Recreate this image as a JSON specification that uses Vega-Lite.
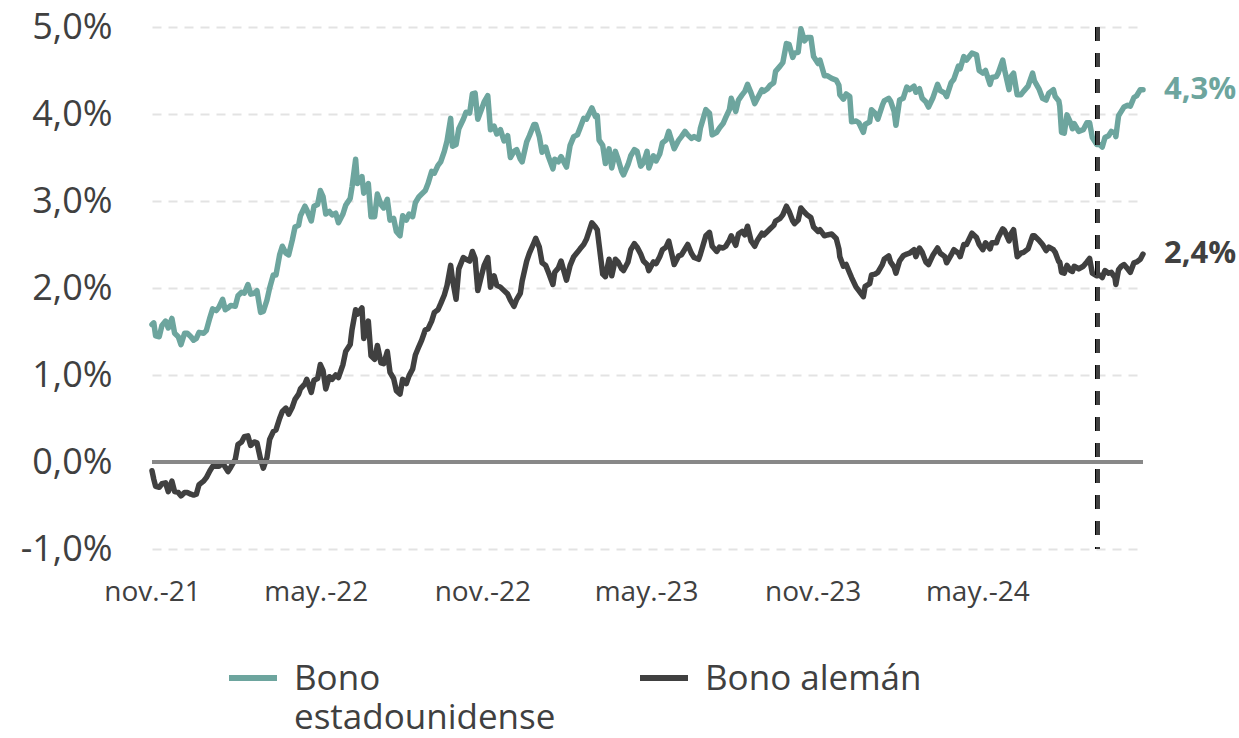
{
  "$schema": "https://vega.github.io/schema/vega-lite/v6.json",
  "width": 991,
  "height": 522,
  "autosize": {"type": "none"},
  "padding": {"left": 152, "top": 27, "right": 96, "bottom": 189},
  "background": "white",
  "config": {
    "view": {"stroke": null},
    "font": "Open Sans",
    "axis": {"title": null}
  },
  "data": {"values": [
    {"d":"2021-11-01","us":1.58,"de":-0.10},
    {"d":"2021-11-03","us":1.60,"de":-0.20},
    {"d":"2021-11-05","us":1.45,"de":-0.28},
    {"d":"2021-11-09","us":1.44,"de":-0.29},
    {"d":"2021-11-12","us":1.57,"de":-0.25},
    {"d":"2021-11-16","us":1.62,"de":-0.24},
    {"d":"2021-11-19","us":1.54,"de":-0.34},
    {"d":"2021-11-23","us":1.65,"de":-0.22},
    {"d":"2021-11-26","us":1.48,"de":-0.34},
    {"d":"2021-11-30","us":1.44,"de":-0.35},
    {"d":"2021-12-03","us":1.35,"de":-0.39},
    {"d":"2021-12-07","us":1.48,"de":-0.35},
    {"d":"2021-12-10","us":1.48,"de":-0.35},
    {"d":"2021-12-14","us":1.44,"de":-0.37},
    {"d":"2021-12-17","us":1.40,"de":-0.38},
    {"d":"2021-12-20","us":1.42,"de":-0.37},
    {"d":"2021-12-23","us":1.49,"de":-0.26},
    {"d":"2021-12-28","us":1.48,"de":-0.22},
    {"d":"2021-12-31","us":1.51,"de":-0.18},
    {"d":"2022-01-04","us":1.66,"de":-0.10},
    {"d":"2022-01-07","us":1.76,"de":-0.05},
    {"d":"2022-01-11","us":1.74,"de":-0.05},
    {"d":"2022-01-14","us":1.78,"de":-0.05},
    {"d":"2022-01-18","us":1.87,"de":-0.01},
    {"d":"2022-01-21","us":1.75,"de":-0.06},
    {"d":"2022-01-24","us":1.77,"de":-0.11},
    {"d":"2022-01-27","us":1.80,"de":-0.06},
    {"d":"2022-02-01","us":1.79,"de":0.03},
    {"d":"2022-02-04","us":1.91,"de":0.20},
    {"d":"2022-02-08","us":1.95,"de":0.23},
    {"d":"2022-02-11","us":1.94,"de":0.29},
    {"d":"2022-02-15","us":2.04,"de":0.30},
    {"d":"2022-02-18","us":1.93,"de":0.19},
    {"d":"2022-02-22","us":1.94,"de":0.23},
    {"d":"2022-02-25","us":1.97,"de":0.22},
    {"d":"2022-03-01","us":1.72,"de":0.03},
    {"d":"2022-03-04","us":1.73,"de":-0.07},
    {"d":"2022-03-08","us":1.86,"de":0.05},
    {"d":"2022-03-11","us":2.00,"de":0.26},
    {"d":"2022-03-15","us":2.15,"de":0.35},
    {"d":"2022-03-18","us":2.15,"de":0.37},
    {"d":"2022-03-22","us":2.38,"de":0.50},
    {"d":"2022-03-25","us":2.48,"de":0.58},
    {"d":"2022-03-29","us":2.40,"de":0.62},
    {"d":"2022-04-01","us":2.38,"de":0.55},
    {"d":"2022-04-05","us":2.55,"de":0.63},
    {"d":"2022-04-08","us":2.70,"de":0.72},
    {"d":"2022-04-12","us":2.72,"de":0.78},
    {"d":"2022-04-14","us":2.83,"de":0.84},
    {"d":"2022-04-19","us":2.94,"de":0.90},
    {"d":"2022-04-21","us":2.90,"de":0.95},
    {"d":"2022-04-26","us":2.77,"de":0.80},
    {"d":"2022-04-29","us":2.94,"de":0.94},
    {"d":"2022-05-03","us":2.96,"de":0.96},
    {"d":"2022-05-06","us":3.12,"de":1.12},
    {"d":"2022-05-09","us":3.05,"de":1.05},
    {"d":"2022-05-12","us":2.85,"de":0.84},
    {"d":"2022-05-16","us":2.88,"de":0.98},
    {"d":"2022-05-19","us":2.84,"de":0.95},
    {"d":"2022-05-23","us":2.86,"de":1.00},
    {"d":"2022-05-26","us":2.75,"de":0.97},
    {"d":"2022-05-31","us":2.85,"de":1.12},
    {"d":"2022-06-03","us":2.95,"de":1.27},
    {"d":"2022-06-08","us":3.03,"de":1.35},
    {"d":"2022-06-10","us":3.16,"de":1.52},
    {"d":"2022-06-14","us":3.48,"de":1.75},
    {"d":"2022-06-16","us":3.20,"de":1.70},
    {"d":"2022-06-21","us":3.28,"de":1.77},
    {"d":"2022-06-23","us":3.09,"de":1.42},
    {"d":"2022-06-28","us":3.20,"de":1.62},
    {"d":"2022-07-01","us":2.82,"de":1.22},
    {"d":"2022-07-05","us":2.82,"de":1.18},
    {"d":"2022-07-08","us":3.08,"de":1.34},
    {"d":"2022-07-12","us":2.96,"de":1.14},
    {"d":"2022-07-15","us":2.92,"de":1.13},
    {"d":"2022-07-19","us":3.02,"de":1.27},
    {"d":"2022-07-22","us":2.78,"de":1.03},
    {"d":"2022-07-26","us":2.80,"de":0.96},
    {"d":"2022-07-29","us":2.65,"de":0.82},
    {"d":"2022-08-02","us":2.60,"de":0.78},
    {"d":"2022-08-05","us":2.83,"de":0.95},
    {"d":"2022-08-09","us":2.78,"de":0.90},
    {"d":"2022-08-12","us":2.85,"de":0.99},
    {"d":"2022-08-16","us":2.82,"de":1.07},
    {"d":"2022-08-19","us":2.98,"de":1.23},
    {"d":"2022-08-23","us":3.05,"de":1.33},
    {"d":"2022-08-26","us":3.08,"de":1.40},
    {"d":"2022-08-30","us":3.12,"de":1.52},
    {"d":"2022-09-02","us":3.20,"de":1.53},
    {"d":"2022-09-06","us":3.34,"de":1.62},
    {"d":"2022-09-09","us":3.32,"de":1.72},
    {"d":"2022-09-13","us":3.41,"de":1.75},
    {"d":"2022-09-16","us":3.45,"de":1.82},
    {"d":"2022-09-20","us":3.57,"de":1.92},
    {"d":"2022-09-23","us":3.69,"de":2.03},
    {"d":"2022-09-27","us":3.95,"de":2.26},
    {"d":"2022-09-29","us":3.63,"de":2.10},
    {"d":"2022-10-03","us":3.65,"de":1.87},
    {"d":"2022-10-06","us":3.83,"de":2.22},
    {"d":"2022-10-11","us":3.94,"de":2.35},
    {"d":"2022-10-14","us":4.02,"de":2.33},
    {"d":"2022-10-18","us":4.01,"de":2.31},
    {"d":"2022-10-21","us":4.23,"de":2.42},
    {"d":"2022-10-24","us":4.24,"de":2.34},
    {"d":"2022-10-27","us":3.94,"de":1.97},
    {"d":"2022-10-31","us":4.05,"de":2.14},
    {"d":"2022-11-03","us":4.14,"de":2.26},
    {"d":"2022-11-07","us":4.21,"de":2.35},
    {"d":"2022-11-10","us":3.82,"de":2.01},
    {"d":"2022-11-14","us":3.86,"de":2.14},
    {"d":"2022-11-17","us":3.77,"de":2.03},
    {"d":"2022-11-21","us":3.82,"de":2.01},
    {"d":"2022-11-25","us":3.69,"de":1.97},
    {"d":"2022-11-29","us":3.75,"de":1.93},
    {"d":"2022-12-02","us":3.50,"de":1.86},
    {"d":"2022-12-06","us":3.57,"de":1.79},
    {"d":"2022-12-09","us":3.59,"de":1.87},
    {"d":"2022-12-13","us":3.48,"de":1.94},
    {"d":"2022-12-15","us":3.45,"de":2.08},
    {"d":"2022-12-20","us":3.68,"de":2.31},
    {"d":"2022-12-23","us":3.75,"de":2.40},
    {"d":"2022-12-28","us":3.88,"de":2.52},
    {"d":"2022-12-30","us":3.88,"de":2.57},
    {"d":"2023-01-03","us":3.74,"de":2.47},
    {"d":"2023-01-06","us":3.56,"de":2.29},
    {"d":"2023-01-10","us":3.62,"de":2.26},
    {"d":"2023-01-13","us":3.51,"de":2.18},
    {"d":"2023-01-18","us":3.37,"de":2.04},
    {"d":"2023-01-20","us":3.48,"de":2.18},
    {"d":"2023-01-24","us":3.45,"de":2.23},
    {"d":"2023-01-27","us":3.51,"de":2.31},
    {"d":"2023-02-02","us":3.39,"de":2.09},
    {"d":"2023-02-06","us":3.64,"de":2.26},
    {"d":"2023-02-10","us":3.74,"de":2.36},
    {"d":"2023-02-14","us":3.76,"de":2.41},
    {"d":"2023-02-17","us":3.84,"de":2.45},
    {"d":"2023-02-21","us":3.95,"de":2.50},
    {"d":"2023-02-24","us":3.94,"de":2.56},
    {"d":"2023-03-02","us":4.07,"de":2.75},
    {"d":"2023-03-06","us":3.97,"de":2.70},
    {"d":"2023-03-08","us":3.98,"de":2.67},
    {"d":"2023-03-10","us":3.70,"de":2.50},
    {"d":"2023-03-14","us":3.64,"de":2.16},
    {"d":"2023-03-17","us":3.43,"de":2.13},
    {"d":"2023-03-21","us":3.60,"de":2.33},
    {"d":"2023-03-24","us":3.38,"de":2.14},
    {"d":"2023-03-28","us":3.57,"de":2.33},
    {"d":"2023-03-31","us":3.48,"de":2.30},
    {"d":"2023-04-04","us":3.34,"de":2.22},
    {"d":"2023-04-06","us":3.30,"de":2.20},
    {"d":"2023-04-11","us":3.42,"de":2.30},
    {"d":"2023-04-14","us":3.52,"de":2.44},
    {"d":"2023-04-18","us":3.59,"de":2.51},
    {"d":"2023-04-21","us":3.57,"de":2.47},
    {"d":"2023-04-25","us":3.40,"de":2.39},
    {"d":"2023-04-28","us":3.44,"de":2.31},
    {"d":"2023-05-02","us":3.57,"de":2.27},
    {"d":"2023-05-04","us":3.38,"de":2.20},
    {"d":"2023-05-09","us":3.52,"de":2.30},
    {"d":"2023-05-12","us":3.46,"de":2.28},
    {"d":"2023-05-16","us":3.54,"de":2.36},
    {"d":"2023-05-19","us":3.67,"de":2.44},
    {"d":"2023-05-23","us":3.70,"de":2.47},
    {"d":"2023-05-26","us":3.80,"de":2.54},
    {"d":"2023-06-01","us":3.60,"de":2.27},
    {"d":"2023-06-06","us":3.70,"de":2.37},
    {"d":"2023-06-09","us":3.74,"de":2.38},
    {"d":"2023-06-13","us":3.80,"de":2.45},
    {"d":"2023-06-16","us":3.76,"de":2.50},
    {"d":"2023-06-20","us":3.72,"de":2.40},
    {"d":"2023-06-23","us":3.74,"de":2.35},
    {"d":"2023-06-28","us":3.71,"de":2.33},
    {"d":"2023-06-30","us":3.84,"de":2.39},
    {"d":"2023-07-06","us":4.05,"de":2.60},
    {"d":"2023-07-10","us":4.01,"de":2.64},
    {"d":"2023-07-13","us":3.76,"de":2.48},
    {"d":"2023-07-18","us":3.79,"de":2.42},
    {"d":"2023-07-21","us":3.84,"de":2.47},
    {"d":"2023-07-25","us":3.89,"de":2.46},
    {"d":"2023-07-28","us":3.96,"de":2.48},
    {"d":"2023-08-01","us":4.05,"de":2.55},
    {"d":"2023-08-03","us":4.18,"de":2.60},
    {"d":"2023-08-08","us":4.03,"de":2.49},
    {"d":"2023-08-11","us":4.16,"de":2.62},
    {"d":"2023-08-15","us":4.22,"de":2.65},
    {"d":"2023-08-18","us":4.26,"de":2.61},
    {"d":"2023-08-21","us":4.34,"de":2.71},
    {"d":"2023-08-25","us":4.24,"de":2.54},
    {"d":"2023-08-29","us":4.12,"de":2.48},
    {"d":"2023-09-01","us":4.18,"de":2.55},
    {"d":"2023-09-06","us":4.28,"de":2.63},
    {"d":"2023-09-08","us":4.26,"de":2.61},
    {"d":"2023-09-12","us":4.29,"de":2.65},
    {"d":"2023-09-15","us":4.33,"de":2.68},
    {"d":"2023-09-19","us":4.36,"de":2.72},
    {"d":"2023-09-21","us":4.49,"de":2.77},
    {"d":"2023-09-26","us":4.55,"de":2.80},
    {"d":"2023-09-29","us":4.59,"de":2.84},
    {"d":"2023-10-03","us":4.81,"de":2.94},
    {"d":"2023-10-06","us":4.80,"de":2.88},
    {"d":"2023-10-10","us":4.65,"de":2.77},
    {"d":"2023-10-12","us":4.70,"de":2.74},
    {"d":"2023-10-16","us":4.71,"de":2.78},
    {"d":"2023-10-19","us":4.98,"de":2.92},
    {"d":"2023-10-23","us":4.84,"de":2.87},
    {"d":"2023-10-26","us":4.88,"de":2.84},
    {"d":"2023-10-30","us":4.88,"de":2.81},
    {"d":"2023-11-02","us":4.66,"de":2.70},
    {"d":"2023-11-07","us":4.58,"de":2.65},
    {"d":"2023-11-09","us":4.62,"de":2.67},
    {"d":"2023-11-14","us":4.44,"de":2.60},
    {"d":"2023-11-17","us":4.44,"de":2.61},
    {"d":"2023-11-22","us":4.41,"de":2.62},
    {"d":"2023-11-27","us":4.39,"de":2.57},
    {"d":"2023-11-30","us":4.33,"de":2.45},
    {"d":"2023-12-01","us":4.22,"de":2.36},
    {"d":"2023-12-05","us":4.17,"de":2.25},
    {"d":"2023-12-08","us":4.23,"de":2.27},
    {"d":"2023-12-12","us":4.20,"de":2.17},
    {"d":"2023-12-14","us":3.91,"de":2.12},
    {"d":"2023-12-19","us":3.92,"de":2.01},
    {"d":"2023-12-22","us":3.90,"de":1.97},
    {"d":"2023-12-27","us":3.79,"de":1.90},
    {"d":"2023-12-29","us":3.88,"de":2.02},
    {"d":"2024-01-03","us":3.91,"de":2.05},
    {"d":"2024-01-05","us":4.05,"de":2.15},
    {"d":"2024-01-09","us":4.01,"de":2.16},
    {"d":"2024-01-12","us":3.94,"de":2.18},
    {"d":"2024-01-17","us":4.10,"de":2.27},
    {"d":"2024-01-19","us":4.15,"de":2.33},
    {"d":"2024-01-24","us":4.18,"de":2.37},
    {"d":"2024-01-26","us":4.15,"de":2.30},
    {"d":"2024-01-30","us":4.03,"de":2.24},
    {"d":"2024-02-01","us":3.87,"de":2.17},
    {"d":"2024-02-05","us":4.16,"de":2.31},
    {"d":"2024-02-09","us":4.18,"de":2.37},
    {"d":"2024-02-13","us":4.31,"de":2.39},
    {"d":"2024-02-16","us":4.28,"de":2.40},
    {"d":"2024-02-21","us":4.32,"de":2.44},
    {"d":"2024-02-23","us":4.25,"de":2.36},
    {"d":"2024-02-27","us":4.29,"de":2.46},
    {"d":"2024-03-01","us":4.18,"de":2.41},
    {"d":"2024-03-05","us":4.14,"de":2.30},
    {"d":"2024-03-08","us":4.08,"de":2.27},
    {"d":"2024-03-13","us":4.19,"de":2.38},
    {"d":"2024-03-18","us":4.34,"de":2.46},
    {"d":"2024-03-21","us":4.27,"de":2.40},
    {"d":"2024-03-26","us":4.24,"de":2.36},
    {"d":"2024-03-28","us":4.20,"de":2.29},
    {"d":"2024-04-02","us":4.36,"de":2.38},
    {"d":"2024-04-05","us":4.40,"de":2.44},
    {"d":"2024-04-10","us":4.55,"de":2.40},
    {"d":"2024-04-12","us":4.52,"de":2.36},
    {"d":"2024-04-16","us":4.66,"de":2.50},
    {"d":"2024-04-19","us":4.62,"de":2.50},
    {"d":"2024-04-25","us":4.70,"de":2.63},
    {"d":"2024-04-30","us":4.68,"de":2.58},
    {"d":"2024-05-03","us":4.50,"de":2.50},
    {"d":"2024-05-07","us":4.47,"de":2.44},
    {"d":"2024-05-10","us":4.50,"de":2.52},
    {"d":"2024-05-15","us":4.34,"de":2.45},
    {"d":"2024-05-17","us":4.42,"de":2.52},
    {"d":"2024-05-22","us":4.43,"de":2.52},
    {"d":"2024-05-24","us":4.47,"de":2.58},
    {"d":"2024-05-29","us":4.62,"de":2.68},
    {"d":"2024-05-31","us":4.51,"de":2.66},
    {"d":"2024-06-05","us":4.28,"de":2.54},
    {"d":"2024-06-07","us":4.43,"de":2.62},
    {"d":"2024-06-10","us":4.47,"de":2.67},
    {"d":"2024-06-14","us":4.22,"de":2.36},
    {"d":"2024-06-18","us":4.22,"de":2.40},
    {"d":"2024-06-21","us":4.26,"de":2.41},
    {"d":"2024-06-26","us":4.32,"de":2.45},
    {"d":"2024-07-01","us":4.47,"de":2.60},
    {"d":"2024-07-03","us":4.38,"de":2.60},
    {"d":"2024-07-08","us":4.29,"de":2.55},
    {"d":"2024-07-12","us":4.18,"de":2.50},
    {"d":"2024-07-16","us":4.16,"de":2.43},
    {"d":"2024-07-19","us":4.24,"de":2.47},
    {"d":"2024-07-24","us":4.28,"de":2.44},
    {"d":"2024-07-26","us":4.20,"de":2.41},
    {"d":"2024-07-30","us":4.15,"de":2.30},
    {"d":"2024-07-31","us":4.09,"de":2.30},
    {"d":"2024-08-02","us":3.79,"de":2.18},
    {"d":"2024-08-05","us":3.78,"de":2.17},
    {"d":"2024-08-08","us":3.99,"de":2.26},
    {"d":"2024-08-12","us":3.90,"de":2.20},
    {"d":"2024-08-14","us":3.83,"de":2.19},
    {"d":"2024-08-16","us":3.89,"de":2.25},
    {"d":"2024-08-21","us":3.80,"de":2.22},
    {"d":"2024-08-26","us":3.82,"de":2.25},
    {"d":"2024-08-30","us":3.90,"de":2.30},
    {"d":"2024-09-02","us":3.90,"de":2.34},
    {"d":"2024-09-05","us":3.73,"de":2.17},
    {"d":"2024-09-10","us":3.65,"de":2.14},
    {"d":"2024-09-13","us":3.65,"de":2.15},
    {"d":"2024-09-16","us":3.62,"de":2.12},
    {"d":"2024-09-19","us":3.73,"de":2.20},
    {"d":"2024-09-23","us":3.75,"de":2.17},
    {"d":"2024-09-26","us":3.80,"de":2.18},
    {"d":"2024-09-30","us":3.78,"de":2.12},
    {"d":"2024-10-01","us":3.74,"de":2.04},
    {"d":"2024-10-04","us":3.98,"de":2.21},
    {"d":"2024-10-07","us":4.03,"de":2.25},
    {"d":"2024-10-10","us":4.08,"de":2.27},
    {"d":"2024-10-14","us":4.10,"de":2.22},
    {"d":"2024-10-17","us":4.09,"de":2.18},
    {"d":"2024-10-21","us":4.19,"de":2.29},
    {"d":"2024-10-24","us":4.21,"de":2.30},
    {"d":"2024-10-28","us":4.28,"de":2.33},
    {"d":"2024-10-31","us":4.28,"de":2.39}
  ]},
  "layer": [
    {
      "transform": [{"fold": ["us", "de"], "as": ["serie", "v"]}],
      "mark": {"type": "line", "strokeWidth": 5.5, "strokeJoin": "round", "strokeCap": "round"},
      "encoding": {
        "x": {
          "field": "d", "type": "temporal", "title": null,
          "scale": {"domain": [{"year": 2021, "month": 11, "date": 1}, {"year": 2024, "month": 10, "date": 31}]},
          "axis": {
            "values": [
              {"year": 2021, "month": 11, "date": 1},
              {"year": 2022, "month": 5, "date": 1},
              {"year": 2022, "month": 11, "date": 1},
              {"year": 2023, "month": 5, "date": 1},
              {"year": 2023, "month": 11, "date": 1},
              {"year": 2024, "month": 5, "date": 1}
            ],
            "labelExpr": "(month(datum.value) == 10 ? 'nov.-' : 'may.-') + timeFormat(datum.value, '%y')",
            "labelFontSize": 28, "labelColor": "#404040", "labelFont": "Open Sans",
            "labelFlush": false, "labelOverlap": false, "labelBound": false,
            "grid": false, "domain": false, "ticks": false, "tickSize": 0, "labelPadding": 29
          }
        },
        "y": {
          "field": "v", "type": "quantitative", "title": null,
          "scale": {"domain": [-1, 5], "nice": false, "zero": false},
          "axis": {
            "values": [-1, 0, 1, 2, 3, 4, 5],
            "labelExpr": "(datum.value < 0 ? '-' : '') + replace(format(abs(datum.value), '.1f'), '.', ',') + '%'",
            "labelFontSize": 36, "labelColor": "#404040", "labelFont": "Open Sans",
            "grid": true, "gridColor": "#e3e3e3", "gridWidth": 2, "gridDash": [9, 7],
            "domain": false, "ticks": false, "tickSize": 0, "labelPadding": 40
          }
        },
        "color": {
          "field": "serie", "type": "nominal",
          "scale": {"domain": ["us", "de"], "range": ["#6da59e", "#404040"]},
          "legend": {
            "orient": "none", "legendX": 74, "legendY": 624,
            "direction": "horizontal", "columns": 2, "columnPadding": 72,
            "title": null, "padding": 0,
            "symbolType": "stroke", "symbolSize": 2304, "symbolStrokeWidth": 6,
            "labelFont": "Open Sans", "labelFontSize": 35, "labelColor": "#404040",
            "labelOffset": 14, "labelLimit": 600, "labelBaseline": "alphabetic",
            "labelExpr": "datum.value == 'us' ? ['Bono', 'estadounidense'] : ['Bono alemán', ' ']",
            "encode": {"labels": {"update": {"dy": {"value": 12}, "lineHeight": {"value": 39}}}}
          }
        }
      }
    },
    {
      "mark": {"type": "rule", "color": "#888888", "strokeWidth": 3},
      "encoding": {"y": {"datum": 0, "type": "quantitative", "title": null}}
    },
    {
      "mark": {"type": "rule", "color": "#404040", "strokeWidth": 3.5, "strokeDash": [14, 12]},
      "encoding": {"x": {"datum": {"year": 2024, "month": 9, "date": 11}, "type": "temporal", "title": null}}
    },
    {
      "transform": [
        {"fold": ["us", "de"], "as": ["serie", "v"]},
        {"joinaggregate": [{"op": "max", "field": "d", "as": "maxd"}]},
        {"filter": "time(datum.d) == time(datum.maxd)"},
        {"calculate": "replace(format(datum.v, '.1f'), '.', ',') + '%'", "as": "lab"}
      ],
      "mark": {"type": "text", "align": "left", "baseline": "middle", "dx": 21, "fontSize": 31, "fontWeight": "bold", "font": "Open Sans"},
      "encoding": {
        "x": {"field": "d", "type": "temporal"},
        "y": {"field": "v", "type": "quantitative"},
        "text": {"field": "lab", "type": "nominal"},
        "color": {"field": "serie", "type": "nominal", "legend": null}
      }
    }
  ]
}
